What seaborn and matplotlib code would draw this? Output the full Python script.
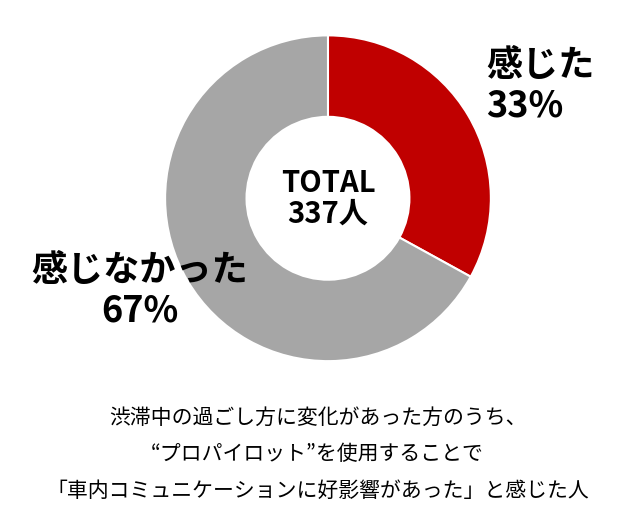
import matplotlib
matplotlib.use("Agg")
import matplotlib.pyplot as plt
import seaborn as sns

sns.set_theme(style="white")
plt.rcParams['font.family'] = ['Noto Sans CJK JP', 'DejaVu Sans']
plt.rcParams['text.color'] = 'black'

labels = ['感じた', '感じなかった']
shares = [33, 67]
colors = ['#C00000', '#A6A6A6']
total_label = 'TOTAL\n337人'
caption = ['渋滞中の過ごし方に変化があった方のうち、',
           '“プロパイロット”を使用することで',
           '「車内コミュニケーションに好影響があった」と感じた人']

fig = plt.figure(figsize=(6.35, 5.19), dpi=100)
ax = fig.add_axes([0.26, 0.304, 0.513, 0.628])
ax.pie(shares, colors=colors, startangle=90, counterclock=False, radius=1.0,
       wedgeprops=dict(width=0.5, edgecolor='white', linewidth=1.5))
ax.set_xlim(-1.0, 1.0)
ax.set_ylim(-1.0, 1.0)
ax.set_aspect('equal')

ax.text(0, 0, total_label, ha='center', va='center', fontsize=21,
        fontweight='bold', linespacing=1.05)

fig.text(0.765, 0.835, f'{labels[0]}\n{shares[0]}%', ha='left', va='center',
         fontsize=26, fontweight='bold', linespacing=1.1)
fig.text(0.22, 0.44, f'{labels[1]}\n{shares[1]}%', ha='center', va='center',
         fontsize=26, fontweight='bold', linespacing=1.1)

for i, line in enumerate(caption):
    fig.text(0.5, 0.195 - i * 0.07, line, ha='center', va='center', fontsize=15)

fig.savefig('out.png', dpi=100)
